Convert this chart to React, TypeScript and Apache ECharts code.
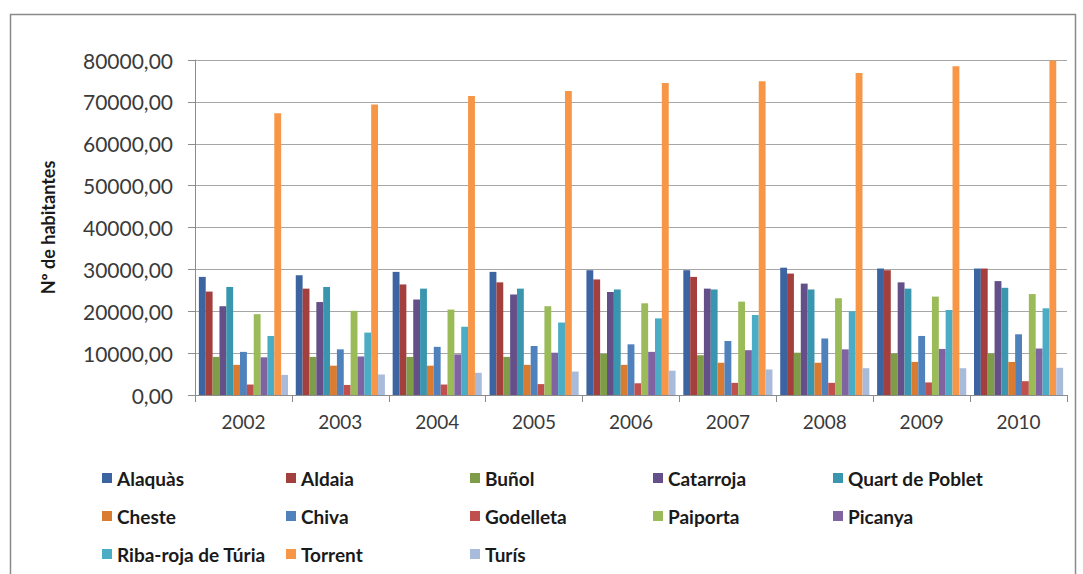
import React, { useEffect, useRef } from "react";
import * as echarts from "echarts";

const years = ["2002", "2003", "2004", "2005", "2006", "2007", "2008", "2009", "2010"];

const alaquas = [28200, 28600, 29400, 29400, 29800, 29800, 30400, 30200, 30200];
const aldaia = [24700, 25400, 26400, 26900, 27600, 28200, 29000, 29800, 30200];
const bunol = [9100, 9100, 9100, 9100, 9800, 9500, 10100, 9900, 9900];
const catarroja = [21200, 22200, 22800, 24000, 24600, 25400, 26600, 26900, 27200];
const quart = [25800, 25800, 25400, 25400, 25200, 25200, 25200, 25400, 25600];
const cheste = [7200, 7000, 7000, 7200, 7200, 7700, 7700, 7900, 7900];
const chiva = [10300, 10900, 11500, 11700, 12100, 12900, 13500, 14100, 14500];
const godelleta = [2500, 2400, 2500, 2600, 2800, 2900, 2900, 3000, 3300];
const paiporta = [19300, 20100, 20400, 21200, 21900, 22300, 23100, 23500, 24100];
const picanya = [9000, 9200, 9700, 10100, 10300, 10700, 10900, 11000, 11100];
const ribaroja = [14100, 14900, 16300, 17300, 18300, 19100, 20000, 20300, 20700];
const torrent = [67300, 69400, 71400, 72600, 74500, 74900, 76900, 78500, 79900];
const turis = [4800, 4900, 5300, 5600, 5800, 6100, 6400, 6400, 6500];

const seriesNames = [
  "Alaquàs", "Aldaia", "Buñol", "Catarroja", "Quart de Poblet",
  "Cheste", "Chiva", "Godelleta", "Paiporta", "Picanya",
  "Riba-roja de Túria", "Torrent", "Turís",
];
const seriesValues = [
  alaquas, aldaia, bunol, catarroja, quart,
  cheste, chiva, godelleta, paiporta, picanya,
  ribaroja, torrent, turis,
];
const colors = [
  "#3C64A0", "#A3403D", "#7F9C49", "#654F88", "#3A96AE",
  "#D97B30", "#4F81BD", "#C0504D", "#9BBB59", "#8064A2",
  "#4BACC6", "#F79646", "#A9BBDB",
];

const legendColumns = [
  [0, 5, 10],
  [1, 6, 11],
  [2, 7, 12],
  [3, 8],
  [4, 9],
];
const legendLefts = [97, 281, 465, 648, 828];

export default function App() {
  const ref = useRef<HTMLDivElement>(null);
  useEffect(() => {
    if (!ref.current) return;
    const chart = echarts.init(ref.current, null, { renderer: "svg" });
    const font = "Lato, 'Open Sans', sans-serif";
    chart.setOption({
      animation: false,
      backgroundColor: "#ffffff",
      color: colors,
      textStyle: { fontFamily: font },
      graphic: [
        {
          type: "rect",
          shape: { x: 10.5, y: 14.5, width: 1065, height: 600 },
          style: { fill: "none", stroke: "#8a8a8a", lineWidth: 1.5 },
          silent: true,
          z: -10,
        },
      ],
      legend: legendColumns.map((col, i) => ({
        orient: "vertical",
        left: legendLefts[i],
        top: 463,
        itemWidth: 10,
        itemHeight: 10,
        itemGap: 18,
        icon: "rect",
        data: col.map((k) => seriesNames[k]),
        textStyle: {
          fontFamily: font,
          fontSize: 19,
          color: "#1a1a1a",
          fontWeight: "bold",
          lineHeight: 20,
          padding: [0, 0, 0, 0],
        },
        selectedMode: false,
      })),
      grid: { left: 195, right: 16, top: 60, bottom: 179, containLabel: false },
      xAxis: {
        type: "category",
        data: years,
        axisLine: { show: true, lineStyle: { color: "#8c8c8c", width: 1 } },
        axisTick: { show: true, length: 7, alignWithLabel: false, lineStyle: { color: "#8c8c8c" } },
        axisLabel: { fontSize: 19, color: "#3a3a3a", margin: 17, fontFamily: font },
      },
      yAxis: {
        type: "value",
        min: 0,
        max: 80000,
        interval: 10000,
        name: "Nº de habitantes",
        nameLocation: "middle",
        nameRotate: 90,
        nameGap: 138,
        nameTextStyle: { fontSize: 18, fontWeight: "bold", color: "#1a1a1a", fontFamily: font },
        axisLine: { show: true, lineStyle: { color: "#8c8c8c", width: 1 } },
        axisTick: { show: true, length: 7, lineStyle: { color: "#8c8c8c" } },
        splitLine: { show: true, lineStyle: { color: "#a6a6a6", width: 1 } },
        axisLabel: {
          fontSize: 21,
          color: "#3a3a3a",
          margin: 22,
          fontFamily: font,
          formatter: (v: number) => v.toFixed(2).replace(".", ","),
        },
      },
      series: seriesNames.map((name, i) => ({
        name,
        type: "bar",
        data: seriesValues[i],
        barGap: "0%",
        barCategoryGap: "8%",
        itemStyle: { color: colors[i] },
      })),
    });
    return () => chart.dispose();
  }, []);
  return (
    <div
      ref={ref}
      style={{ position: "absolute", left: 0, top: 0, width: 1083, height: 574 }}
    />
  );
}
